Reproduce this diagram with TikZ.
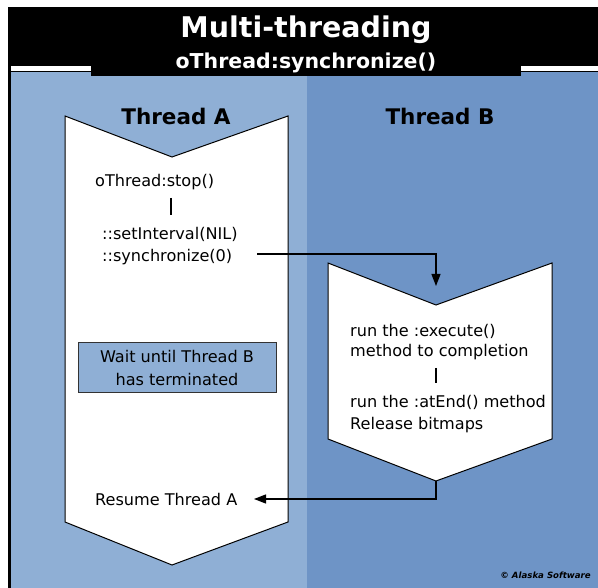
\documentclass[tikz,border=0pt]{standalone}
\usepackage{fontspec}
\setmainfont{DejaVu Sans}
\usetikzlibrary{arrows.meta}
\definecolor{paneA}{RGB}{143,175,213}
\definecolor{paneB}{RGB}{110,148,198}
\tikzset{
  body/.style={font=\fontsize{16.1}{19}\selectfont, inner sep=0pt, anchor=base west},
  head/.style={font=\bfseries\fontsize{21.5}{24}\selectfont, inner sep=0pt, anchor=base},
  chev/.style={draw=black, line width=1pt, fill=white, line join=miter},
  conn/.style={draw=black, line width=1.3pt},
  bar/.style={draw=black, line width=1.1pt},
  tip/.style={-{Triangle[length=12pt,width=9pt]}}
}
\begin{document}
\begin{tikzpicture}[x=1pt,y=-1pt]
\useasboundingbox (0,0) rectangle (598,588);
% frame
\fill[white] (0,0) rectangle (598,588);
\fill[black] (8,7.5) rectangle (598,588);
\fill[paneA] (11,72) rectangle (307,588);
\fill[paneB] (307,72) rectangle (598,588);
\fill[white] (11,66) rectangle (91,71);
\fill[white] (521,66) rectangle (598,71);
\fill[black] (91,60) rectangle (521,76.5);
% title
\node[font=\bfseries\fontsize{28.5}{32}\selectfont, text=white, inner sep=0pt, anchor=base] (title) at (306,38) {Multi-threading};
\node[font=\bfseries\fontsize{20.5}{24}\selectfont, text=white, inner sep=0pt, anchor=base] (subtitle) at (306,68.5) {oThread:synchronize()};
% chevrons
\draw[chev] (65,116) -- (172,157) -- (288,116) -- (288,522) -- (172,565) -- (65,522) -- cycle;
\draw[chev] (328,263) -- (436,305) -- (552,263) -- (552,439) -- (436,481) -- (328,439) -- cycle;
% headings
\node[head] (tha) at (176,125) {Thread A};
\node[head] (thb) at (440,125) {Thread B};
% thread A texts
\node[body] (stop) at (95,187) {oThread:stop()};
\coordinate (abar1) at (171,198);
\coordinate (abar2) at (171,215);
\draw[bar] (abar1) -- (abar2);
\node[body] (setint) at (102,240) {::setInterval(NIL)};
\node[body] (sync) at (102,262) {::synchronize(0)};
% wait box
\node[draw=black!80, line width=1pt, fill=paneA, minimum width=198pt, minimum height=50pt, inner sep=0pt, align=center, font=\fontsize{16.1}{23}\selectfont] (wait) at (177,368) {Wait until Thread B\\has terminated};
\node[body] (resume) at (95,505) {Resume Thread A};
% thread B texts
\node[body] (exec) at (350,337) {run the :execute()};
\node[body] (meth) at (350,357) {method to completion};
\coordinate (bbar1) at (436,368);
\coordinate (bbar2) at (436,383);
\draw[bar] (bbar1) -- (bbar2);
\node[body] (atend) at (350,408) {run the :atEnd() method};
\node[body] (rel) at (350,430) {Release bitmaps};
% connectors
\coordinate (syncout) at (257,254);
\coordinate (bcorner) at (436,254);
\coordinate (bin) at (436,286);
\draw[conn,tip] (syncout) -- (bcorner) -- (bin);
\coordinate (bbottom) at (436,481);
\coordinate (bturn) at (436,499);
\coordinate (resin) at (254,499);
\draw[conn,tip] (bbottom) -- (bturn) -- (resin);
% copyright
\node[font=\bfseries\itshape\fontsize{8.6}{10}\selectfont, inner sep=0pt, anchor=base east] (copy) at (591,578) {\textcopyright\ Alaska Software};
\end{tikzpicture}
\end{document}
